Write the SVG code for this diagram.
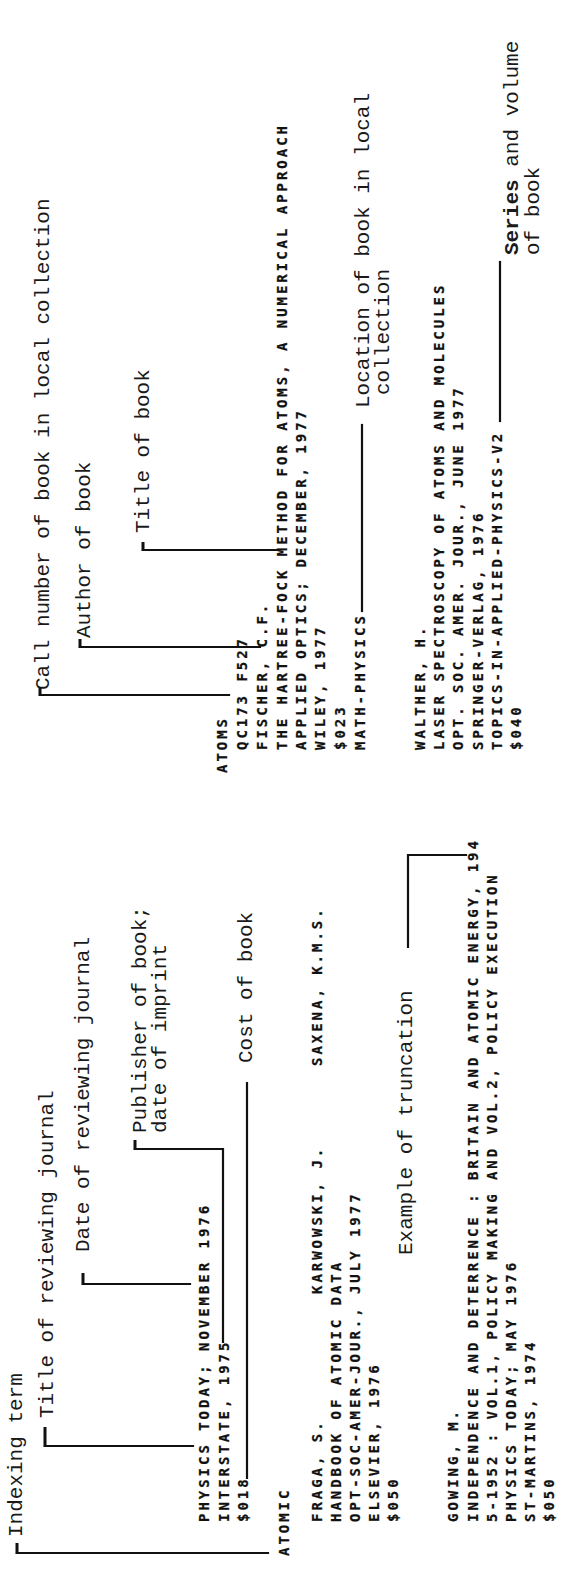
<svg xmlns="http://www.w3.org/2000/svg" width="566" height="1569" viewBox="0 0 566 1569">
<style>
.lbl{font-family:"Liberation Mono","Courier New",monospace;font-size:21px;fill:#1a1a1a}
.dat{font-family:"DejaVu Sans Mono","Liberation Mono",monospace;font-weight:bold;font-size:14px;letter-spacing:2.97px;fill:#111;stroke:#111;stroke-width:0.25}
.con{fill:none;stroke:#111;stroke-width:2.2;stroke-linecap:square}
.tick{fill:none;stroke:#111;stroke-width:3}
</style>
<rect width="566" height="1569" fill="#fff"/>
<g transform="translate(0,1569) rotate(-90)">
  <g id="label-indexing-term"><text class="lbl" x="32" y="22">Indexing term</text></g>
  <g id="label-title-journal"><text class="lbl" x="151" y="53">Title of reviewing journal</text></g>
  <g id="label-date-journal"><text class="lbl" x="317" y="89">Date of reviewing journal</text></g>
  <g id="label-publisher"><text class="lbl" x="436" y="146">Publisher of book;</text><text class="lbl" x="436" y="166">date of imprint</text></g>
  <g id="label-cost"><text class="lbl" x="506" y="252">Cost of book</text></g>
  <g id="label-truncation"><text class="lbl" x="314" y="412">Example of truncation</text></g>
  <g id="label-call-number"><text class="lbl" x="879" y="49">Call number of book in local collection</text></g>
  <g id="label-author"><text class="lbl" x="931" y="90">Author of book</text></g>
  <g id="label-title-book"><text class="lbl" x="1036" y="149">Title of book</text></g>
  <g id="label-location"><text class="lbl" x="1161" y="369">Location of book in local</text><text class="lbl" x="1174" y="389">collection</text></g>
  <g id="label-series"><text class="lbl" x="1314" y="518"><tspan font-weight="bold">Series</tspan> and volume</text><text class="lbl" x="1314" y="539">of book</text></g>

  <g id="entry-physics-today">
    <text class="dat" x="47" y="209">PHYSICS TODAY; NOVEMBER 1976</text>
    <text class="dat" x="47" y="229">INTERSTATE, 1975</text>
    <text class="dat" x="47" y="248">$018</text>
  </g>
  <g id="term-atomic"><text class="dat" x="13" y="289">ATOMIC</text></g>
  <g id="entry-fraga">
    <text class="dat" x="47" y="322">FRAGA, S.</text>
    <text class="dat" x="275" y="322">KARWOWSKI, J.</text>
    <text class="dat" x="503" y="322">SAXENA, K.M.S.</text>
    <text class="dat" x="47" y="341">HANDBOOK OF ATOMIC DATA</text>
    <text class="dat" x="47" y="360">OPT-SOC-AMER-JOUR., JULY 1977</text>
    <text class="dat" x="47" y="379">ELSEVIER, 1976</text>
    <text class="dat" x="47" y="398">$050</text>
  </g>
  <g id="entry-gowing">
    <text class="dat" x="47" y="458">GOWING, M.</text>
    <text class="dat" x="47" y="478">INDEPENDENCE AND DETERRENCE : BRITAIN AND ATOMIC ENERGY, 194</text>
    <text class="dat" x="47" y="497">5-1952 : VOL.1, POLICY MAKING AND VOL.2, POLICY EXECUTION</text>
    <text class="dat" x="47" y="516">PHYSICS TODAY; MAY 1976</text>
    <text class="dat" x="47" y="535">ST-MARTINS, 1974</text>
    <text class="dat" x="47" y="554">$050</text>
  </g>
  <g id="term-atoms"><text class="dat" x="796" y="227">ATOMS</text></g>
  <g id="entry-fischer">
    <text class="dat" x="819" y="247">QC173 F527</text>
    <text class="dat" x="819" y="267">FISCHER, C.F.</text>
    <text class="dat" x="819" y="287">THE HARTREE-FOCK METHOD FOR ATOMS, A NUMERICAL APPROACH</text>
    <text class="dat" x="819" y="306">APPLIED OPTICS; DECEMBER, 1977</text>
    <text class="dat" x="819" y="325">WILEY, 1977</text>
    <text class="dat" x="819" y="345">$023</text>
    <text class="dat" x="819" y="365">MATH-PHYSICS</text>
  </g>
  <g id="entry-walther">
    <text class="dat" x="819" y="425">WALTHER, H.</text>
    <text class="dat" x="819" y="444">LASER SPECTROSCOPY OF ATOMS AND MOLECULES</text>
    <text class="dat" x="819" y="463">OPT. SOC. AMER. JOUR., JUNE 1977</text>
    <text class="dat" x="819" y="483">SPRINGER-VERLAG, 1976</text>
    <text class="dat" x="819" y="502">TOPICS-IN-APPLIED-PHYSICS-V2</text>
    <text class="dat" x="819" y="521">$040</text>
  </g>
</g>
<g id="connectors">
  <path class="con" d="M17,1553 L268,1553"/><path class="tick" d="M17,1543 L17,1554"/>
  <path class="con" d="M45,1446 L193,1446"/><path class="tick" d="M45,1427 L45,1447"/>
  <path class="con" d="M83,1284 L190,1284"/><path class="tick" d="M83,1273 L83,1285"/>
  <path class="con" d="M135,1149 L223,1149 L223,1342"/><path class="tick" d="M135,1140 L135,1150"/>
  <path class="con" d="M247,1478 L247,1083"/>
  <path class="con" d="M408,947 L408,855 L466,855"/>
  <path class="con" d="M40,695 L229,695"/><path class="tick" d="M40,687 L40,696"/>
  <path class="con" d="M80,647 L260,647"/><path class="tick" d="M80,639 L80,648"/>
  <path class="con" d="M143,550 L277,550"/><path class="tick" d="M143,542 L143,551"/>
  <path class="con" d="M362,611 L362,425"/>
  <path class="con" d="M500,421 L500,262"/>
</g>
</svg>
